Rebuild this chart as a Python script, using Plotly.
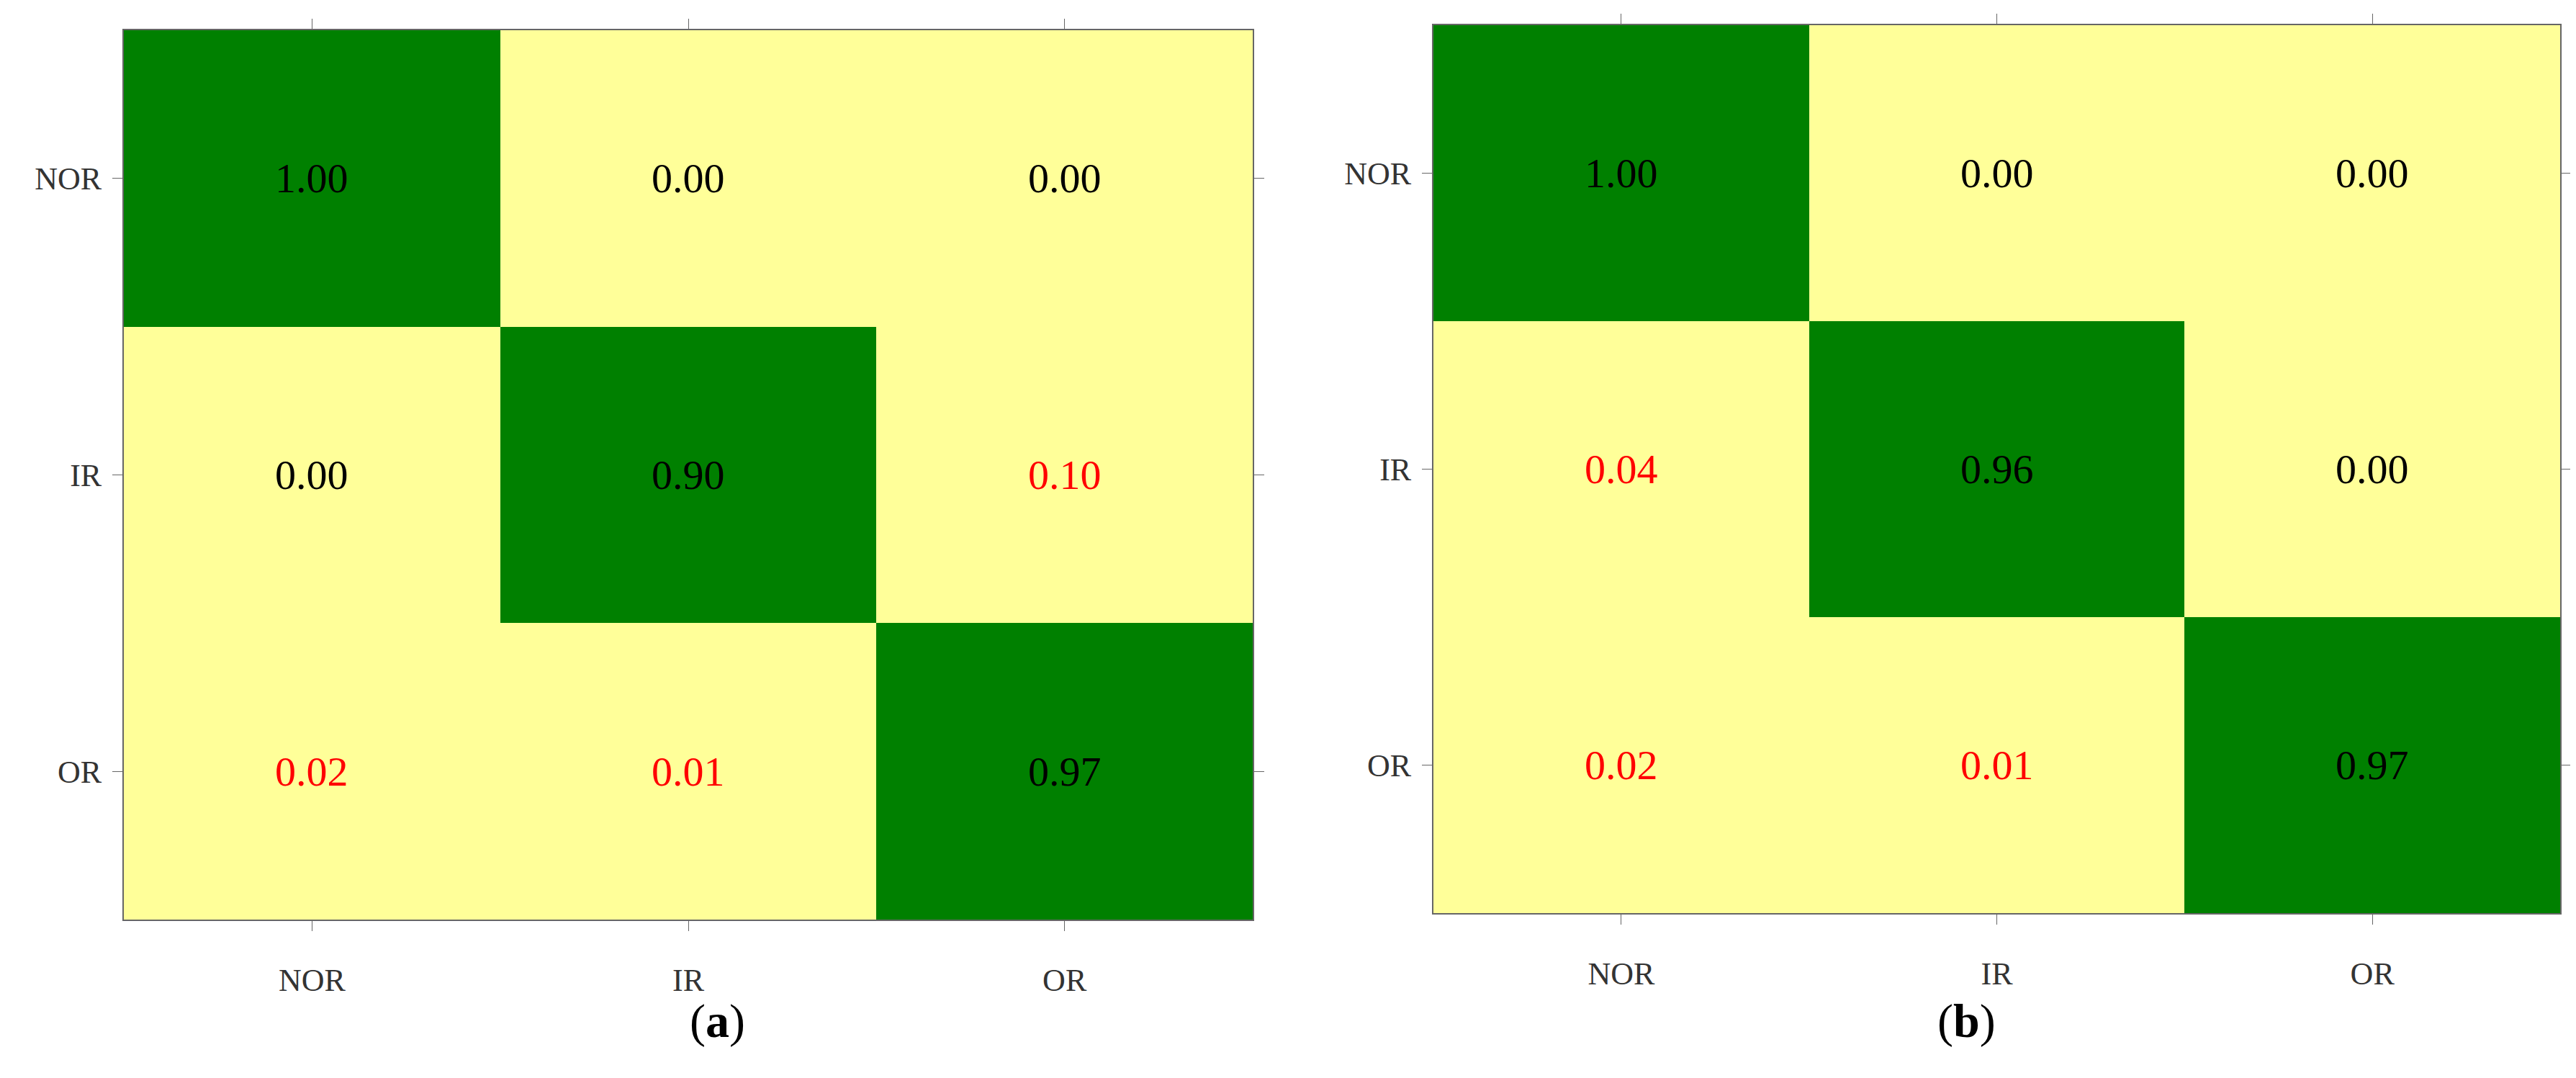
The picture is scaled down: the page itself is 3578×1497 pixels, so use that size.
import plotly.graph_objects as go
from plotly.subplots import make_subplots

classes = ["NOR", "IR", "OR"]
matrix_a = [[1.00, 0.00, 0.00],
            [0.00, 0.90, 0.10],
            [0.02, 0.01, 0.97]]
matrix_b = [[1.00, 0.00, 0.00],
            [0.04, 0.96, 0.00],
            [0.02, 0.01, 0.97]]
captions = ["a", "b"]

W, H = 3578, 1497
fig = go.Figure()
GREEN, YELLOW = "#008000", "#FFFF99"
cs = [[0, YELLOW], [0.5, YELLOW], [0.5, GREEN], [1, GREEN]]
FONT = "Liberation Serif"

panels = [
    (matrix_a, "x", "y", [164 / W, 1732 / W], [1 - 1269 / H, 1 - 34 / H]),
    (matrix_b, "x2", "y2", [1983 / W, 3548 / W], [1 - 1260 / H, 1 - 27 / H]),
]
for i, (m, xa, ya, dx, dy) in enumerate(panels):
    fig.add_trace(go.Heatmap(z=m, x=classes, y=classes, colorscale=cs, zmin=0, zmax=1,
                             showscale=False, xaxis=xa, yaxis=ya, hoverinfo="skip"))
    for r, row in enumerate(m):
        for c, v in enumerate(row):
            col = "red" if (r != c and v > 0) else "black"
            fig.add_annotation(x=classes[c], y=classes[r], xref=xa, yref=ya, text=f"{v:.2f}",
                               showarrow=False, font=dict(family=FONT, size=58, color=col))
    sfx = "" if i == 0 else "2"
    axcommon = dict(showline=True, linecolor="#666", linewidth=2, mirror="ticks", ticks="outside",
                    ticklen=14, tickcolor="#666", tickfont=dict(family=FONT, size=44, color="#333"),
                    showgrid=False, zeroline=False)
    fig.layout["xaxis" + sfx] = dict(domain=dx, anchor="y" + sfx, ticklabelstandoff=30, **axcommon)
    fig.layout["yaxis" + sfx] = dict(domain=dy, anchor="x" + sfx, autorange="reversed",
                                     ticklabelstandoff=6, **axcommon)
    fig.add_annotation(x=(dx[0] + dx[1]) / 2, y=1 - 1410 / H, xref="paper", yref="paper",
                       text=f"(<b>{captions[i]}</b>)", showarrow=False, yanchor="middle",
                       font=dict(family=FONT, size=66, color="black"))

fig.update_layout(width=W, height=H, margin=dict(l=0, r=0, t=0, b=0),
                  paper_bgcolor="white", plot_bgcolor="white")
fig.write_html("out.html")
